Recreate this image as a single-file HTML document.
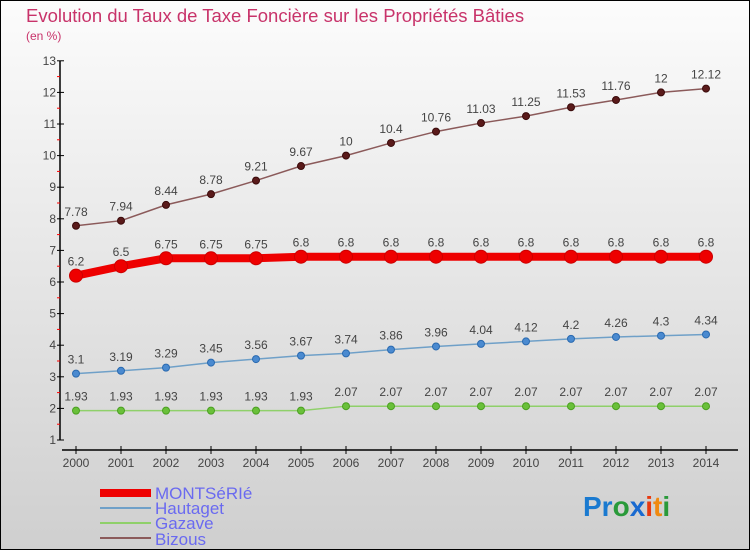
<!DOCTYPE html>
<html><head><meta charset="utf-8"><style>
body{margin:0;}
#c{width:750px;height:550px;position:relative;overflow:hidden;font-family:"Liberation Sans",sans-serif;}
</style></head><body>
<div id="c">
<svg id="s" width="750" height="550" xmlns="http://www.w3.org/2000/svg">
<defs><linearGradient id="bg" x1="0" y1="0" x2="0" y2="1"><stop offset="0" stop-color="#fcfcfc"/><stop offset="1" stop-color="#cfcfcf"/></linearGradient></defs>
<rect x="0.5" y="0.5" width="749" height="549" fill="url(#bg)" stroke="#000"/>
<text x="26" y="22" font-size="18.5" fill="#c8336a">Evolution du Taux de Taxe Foncière sur les Propriétés Bâties</text>
<text x="26" y="40" font-size="12" fill="#c8336a">(en %)</text>
<g id="axes"></g><g id="series"></g>
<g>
<rect x="100" y="489" width="51" height="8" fill="#e00"/>
<text x="155" y="499" font-size="17" fill="#6a6af0">MONTSéRIé</text>
<rect x="100" y="507" width="51" height="2" fill="#6fa0c8"/>
<text x="155" y="514" font-size="17" fill="#6a6af0">Hautaget</text>
<rect x="100" y="522" width="51" height="2" fill="#8fd06a"/>
<text x="155" y="529" font-size="17" fill="#6a6af0">Gazave</text>
<rect x="100" y="537" width="51" height="2" fill="#8b5a5a"/>
<text x="155" y="545" font-size="17" fill="#6a6af0">Bizous</text>
</g>
<g font-size="28" font-weight="bold">
<text x="583" y="516"><tspan fill="#1a7ad0">Pr</tspan><tspan fill="#2a9a3a">o</tspan><tspan fill="#1a6ad0">x</tspan><tspan fill="#e83a10">i</tspan><tspan fill="#f08a10">t</tspan><tspan fill="#2a9a3a">i</tspan></text>
</g>
</svg>
</div>
<script>
const years=[2000,2001,2002,2003,2004,2005,2006,2007,2008,2009,2010,2011,2012,2013,2014];
const yTicks=[1,2,3,4,5,6,7,8,9,10,11,12,13];
const montserie=[6.2,6.5,6.75,6.75,6.75,6.8,6.8,6.8,6.8,6.8,6.8,6.8,6.8,6.8,6.8];
const hautaget=[3.1,3.19,3.29,3.45,3.56,3.67,3.74,3.86,3.96,4.04,4.12,4.2,4.26,4.3,4.34];
const gazave=[1.93,1.93,1.93,1.93,1.93,1.93,2.07,2.07,2.07,2.07,2.07,2.07,2.07,2.07,2.07];
const bizous=[7.78,7.94,8.44,8.78,9.21,9.67,10,10.4,10.76,11.03,11.25,11.53,11.76,12,12.12];
const NS='http://www.w3.org/2000/svg';
const x=i=>76+i*45;
const y=v=>440-(v-1)*31.6;
function mk(t,a,p){const e=document.createElementNS(NS,t);for(const k in a)e.setAttribute(k,a[k]);p.appendChild(e);return e;}
const ax=document.getElementById('axes');
const yl=mk('line',{x1:60,y1:y(13),x2:60,y2:y(1),stroke:'#000','stroke-width':1.5},ax);


yTicks.forEach(v=>{
 mk('line',{x1:57,y1:y(v),x2:64,y2:y(v),stroke:'#000'},ax);
 if(v<13)mk('line',{x1:57,y1:y(v+0.5),x2:60,y2:y(v+0.5),stroke:'#f00'},ax);
 const t=mk('text',{x:56,y:y(v)+4,'font-size':12,'text-anchor':'end',fill:'#444'},ax);
 t.textContent=v;
 
 
});
const xl=mk('line',{x1:62,y1:450,x2:738,y2:450,stroke:'#000','stroke-width':1.5},ax);


years.forEach((yr,i)=>{
 mk('line',{x1:x(i),y1:446,x2:x(i),y2:454,stroke:'#000'},ax);
 const t=mk('text',{x:x(i),y:467,'font-size':12,'text-anchor':'middle',fill:'#444'},ax);
 t.textContent=yr;
 
 
});
const sg=document.getElementById('series');
function series(name,data,color,w,r,dot,dotStroke){
 const g=mk('g',{},sg);
 
 
 mk('polyline',{points:data.map((v,i)=>x(i)+','+y(v)).join(' '),fill:'none',stroke:color,'stroke-width':w},g);
 data.forEach((v,i)=>{
  const c=mk('circle',{cx:x(i),cy:y(v),r:r,fill:dot,stroke:dotStroke,'stroke-width':1},g);
  
  
  const t=mk('text',{x:x(i),y:y(v)-10,'font-size':12,'text-anchor':'middle',fill:'#444'},g);
  t.textContent=v;
  
  
 });
}
series('bizous',bizous,'#8b5a5a',1.5,3.5,'#5a1a1a','#3a0a0a');
series('hautaget',hautaget,'#6fa0c8',1.5,3.5,'#4a8ad0','#2a6ab0');
series('gazave',gazave,'#8fd06a',1.5,3.5,'#6ac03a','#4aa020');
series('montserie',montserie,'#e00',8,6.5,'#e00','#c00');
</script>
</body></html>
